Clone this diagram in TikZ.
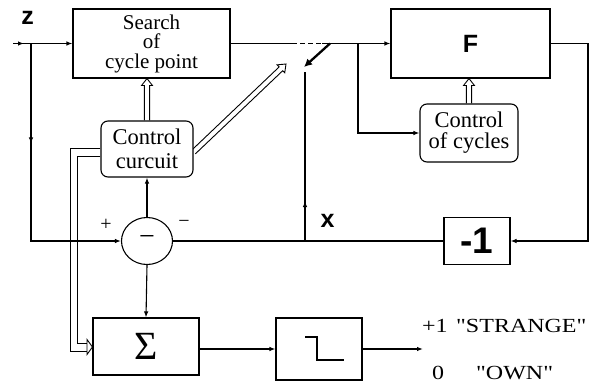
\documentclass[tikz,border=0pt]{standalone}
\usepackage{fontspec}
\setmainfont{Liberation Serif}
\setsansfont{Liberation Sans}
\newfontfamily\widefont{Liberation Serif}[FakeStretch=1.2]
\usetikzlibrary{arrows.meta,calc,shapes.geometric,decorations.markings,backgrounds}

\tikzset{
  wire/.style={line width=1.1pt},
  arr/.style={wire,-{Latex[length=6pt,width=4.5pt]}},
  markarr/.style={postaction={decorate,decoration={markings,
      mark=at position #1 with {\arrow{Latex[length=6pt,width=4.5pt]}}}}},
  blk/.style={draw,line width=1.1pt,fill=white,inner sep=0pt,align=center},
  rblk/.style={blk,rounded corners=7pt},
  txt/.style={font=\fontsize{22.5}{#1}\selectfont},
  bsans/.style={font=\fontsize{#1}{#1}\selectfont\sffamily\bfseries},
  % double-stroke arrow with an open head, drawn as one outline
  hollow/.style={line width=0.9pt,draw,fill=white,to path={
    let \p1=(\tikztostart), \p2=(\tikztotarget),
        \n1={atan2(\y2-\y1,\x2-\x1)} in
    ($(\p1)+(\n1+90:2.6pt)$)
    -- ($(\p2)+(\n1:-7pt)+(\n1+90:2.6pt)$)
    -- ($(\p2)+(\n1:-7pt)+(\n1+90:5.5pt)$)
    -- (\p2)
    -- ($(\p2)+(\n1:-7pt)+(\n1-90:5.5pt)$)
    -- ($(\p2)+(\n1:-7pt)+(\n1-90:2.6pt)$)
    -- ($(\p1)+(\n1-90:2.6pt)$)}}
}

\begin{document}
\begin{tikzpicture}[x=1pt,y=-1pt]
\useasboundingbox (0,0) rectangle (594,385);

% blocks
\node[blk,font=\fontsize{21}{19.5}\selectfont,minimum width=157pt,minimum height=69pt] (search) at (151.5,43.5) {Search\\of\\cycle point};
\node[blk,bsans=25,minimum width=159pt,minimum height=69pt] (F) at (470.5,43.5) {F};
\node[rblk,txt=24,minimum width=92pt,minimum height=56pt] (ctrl) at (147,149) {Control\\curcuit};
\node[rblk,txt=21,minimum width=98pt,minimum height=58pt] (cyc) at (469,133) {Control\\of cycles};
\node[blk,bsans=37,minimum width=66pt,minimum height=47pt] (neg) at (477,241) {-1};
\node[blk,ellipse,font=\fontsize{28}{28}\selectfont,minimum width=51pt,minimum height=47pt] (circ) at (147,241) {−};
\node[blk,font=\fontsize{40}{40}\selectfont,minimum width=106pt,minimum height=57pt] (sum) at (146,346.5) {Σ};
\node[blk,minimum width=86pt,minimum height=62pt] (thr) at (319,349) {};

% step characteristic inside the threshold block
\draw[line width=1.3pt] ($(thr.center)+(-14,-12)$) -- ++(12,0) -- ++(0,23) -- ++(27,0);

% labels
\node[bsans=25] (zlab) at (27.5,18) {z};
\node[bsans=25] (xlab) at (327.5,221) {x};
\node[font=\fontsize{20}{20}\selectfont] (plus) at (106,225) {+};
\node[font=\fontsize{20}{20}\selectfont] (minus) at (184,224) {−};
\node[anchor=base west,font=\fontsize{20}{20}\widefont,inner sep=0pt] (one) at (422,332) {+1};
\node[anchor=base west,font=\fontsize{20}{20}\widefont,inner sep=0pt] (strange) at (456,332) {"STRANGE"};
\node[anchor=base west,font=\fontsize{20}{20}\widefont,inner sep=0pt] (zero) at (432,379) {0};
\node[anchor=base west,font=\fontsize{20}{20}\widefont,inner sep=0pt] (own) at (476,379) {"OWN"};

% free ends and junctions
\coordinate (in) at (13,43.5);
\coordinate (jz) at (31,43.5);
\coordinate (sw1) at (292,43.5);
\coordinate (sw2) at (322,43.5);
\coordinate (pivot) at (330,43.5);
\coordinate (lever) at (304,67);
\coordinate (swbase) at (305,72);
\coordinate (swtip) at (286,64);
\coordinate (jx) at (305,241);
\coordinate (jc) at (358,43.5);
\coordinate (rc) at (588,43.5);
\coordinate (out) at (423,349);

\begin{scope}[on background layer]
  % signal path
  \draw[arr,markarr=11pt] (in) -- (search.west);
  \draw[arr,markarr=100pt] (jz) |- (circ.west);
  \draw[wire] (search.east) -- (sw1);
  \draw[wire,dash pattern=on 5pt off 3pt] (sw1) -- (sw2);
  \draw[arr] (sw2) -- (F.west);
  \draw[arr] (jc) |- (cyc.west);
  \draw[arr] (F.east) -- (rc) |- (neg.east);
  \draw[wire] (neg.west) -- (circ.east);
  \draw[wire,markarr=40pt] (jx) -- (swbase);
  \draw[arr] (circ.north) -- (ctrl.south);
  \draw[arr] (circ.south) -- (sum.north);
  \draw[arr] (sum.east |- thr.west) -- (thr.west);
  \draw[arr] (thr.east) -- (out);

  % switch lever
  \draw[line width=2.3pt,-{Latex[length=8pt,width=8pt]}] (pivot) -- (lever);

  % control links (double lines)
  \path[hollow] (ctrl.north) to (ctrl.north |- search.south);
  \path[hollow] (cyc.north) to (cyc.north |- F.south);
  \path[hollow] ($(ctrl.east)+(0,3)$) to (swtip);

  \draw[line width=0.9pt] (ctrl.west |- 0,148) -- (70,148) -- (70,351) -- (87,351);
  \draw[line width=0.9pt] (ctrl.west |- 0,156) -- (77,156) -- (77,343) -- (87,343);
  \draw[line width=0.9pt,fill=white] (87,339.5) -- (sum.west |- 0,347) -- (87,354.5) -- cycle;
\end{scope}
\end{tikzpicture}
\end{document}
